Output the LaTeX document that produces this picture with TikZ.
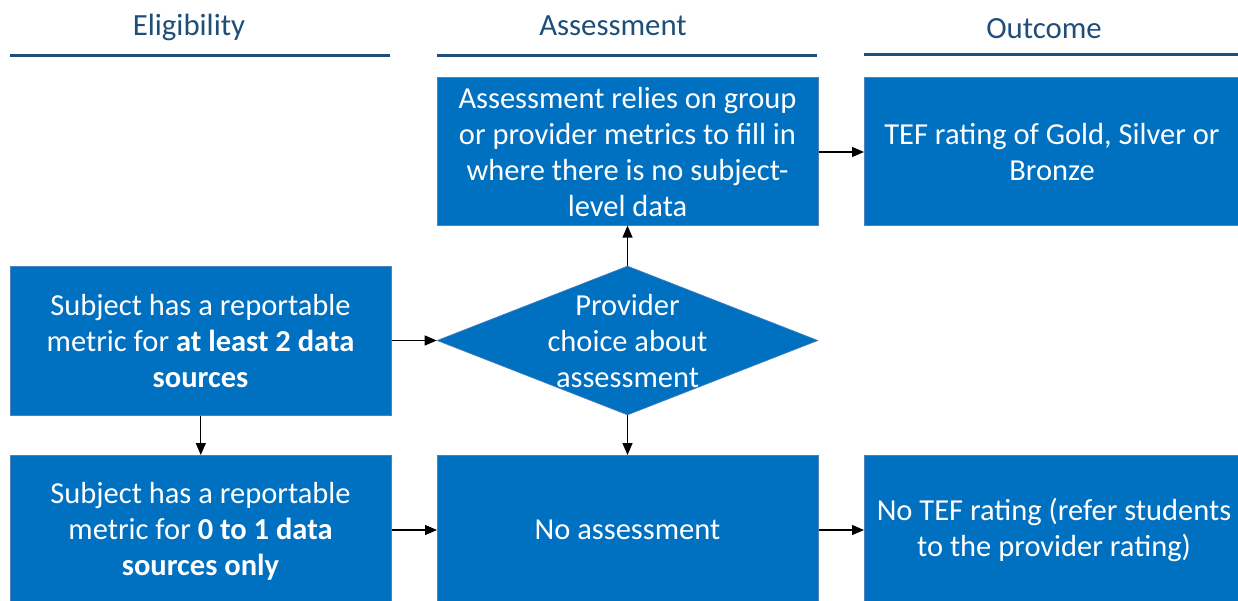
\documentclass[tikz,border=0pt]{standalone}
\usepackage{fontspec}
\setmainfont{Carlito}
\usetikzlibrary{arrows.meta,shapes.geometric}
\definecolor{boxblue}{HTML}{0070C0}
\definecolor{boxedge}{HTML}{4F81BD}
\definecolor{headblue}{HTML}{1F4E79}
\tikzset{
  box/.style={rectangle, fill=boxblue, draw=boxedge, line width=0.6pt, inner sep=0pt, anchor=north west},
  boxtext/.style={text=white, align=center, font=\fontsize{30.5}{36}\selectfont},
  headtext/.style={text=headblue, anchor=base, font=\fontsize{30.8}{36}\selectfont},
  headline/.style={draw=headblue, line width=3pt},
  arr/.style={draw=black, line width=1.3pt, -{Triangle[length=12pt,width=10pt]}}
}
\begin{document}
\begin{tikzpicture}[x=1pt,y=-1pt]
\useasboundingbox (0,0) rectangle (1238,601);
% headers
\node[headtext] (h1) at (189,36) {Eligibility};
\node[headtext] (h2) at (613,36) {Assessment};
\node[headtext] (h3) at (1044,39) {Outcome};
\coordinate (l1a) at (10,56); \coordinate (l1b) at (390,56);
\coordinate (l2a) at (437,56); \coordinate (l2b) at (817,56);
\coordinate (l3a) at (864,55); \coordinate (l3b) at (1240,55);
\draw[headline] (l1a) -- (l1b);
\draw[headline] (l2a) -- (l2b);
\draw[headline] (l3a) -- (l3b);
% boxes
\node[box, minimum width=381pt, minimum height=148pt] (M1) at (437,77) {};
\node[box, minimum width=376pt, minimum height=148pt] (R1) at (864,77) {};
\node[box, minimum width=381pt, minimum height=149pt] (L1) at (10,266) {};
\node[diamond, fill=boxblue, draw=boxedge, line width=0.6pt, inner sep=0pt, minimum width=381pt, minimum height=149pt] (D) at (627.5,340.5) {};
\node[box, minimum width=381pt, minimum height=152pt] (L2) at (10,455) {};
\node[box, minimum width=381pt, minimum height=152pt] (M2) at (437,455) {};
\node[box, minimum width=376pt, minimum height=152pt] (R2) at (864,455) {};
% texts
\node[boxtext] (tM1) at (627.5,152) {Assessment relies on group\\or provider metrics to fill in\\where there is no subject-\\level data};
\node[boxtext] (tR1) at (1052,152) {TEF rating of Gold, Silver or\\Bronze};
\node[boxtext] (tL1) at (200.5,341) {Subject has a reportable\\metric for \textbf{at least 2 data}\\\textbf{sources}};
\node[boxtext] (tD) at (627.5,341) {Provider\\choice about\\assessment};
\node[boxtext] (tL2) at (200.5,531) {Subject has a reportable\\metric for \textbf{0 to 1 data}\\\textbf{sources only}};
\node[boxtext] (tM2) at (627.5,530) {No assessment};
\node[boxtext] (tR2) at (1054,530) {No TEF rating (refer students\\to the provider rating)};
% connectors
\draw[arr] (L1.east |- D.west) -- (D.west);
\draw[arr] (D.north) -- (D.north |- M1.south);
\draw[arr] (D.south) -- (D.south |- M2.north);
\draw[arr] (L1.south) -- (L1.south |- L2.north);
\coordinate (y530) at (0,530);
\draw[arr] (L2.east |- y530) -- (M2.west |- y530);
\draw[arr] (M2.east |- y530) -- (R2.west |- y530);
\coordinate (y152) at (0,152);
\draw[arr] (M1.east |- y152) -- (R1.west |- y152);
\end{tikzpicture}
\end{document}
